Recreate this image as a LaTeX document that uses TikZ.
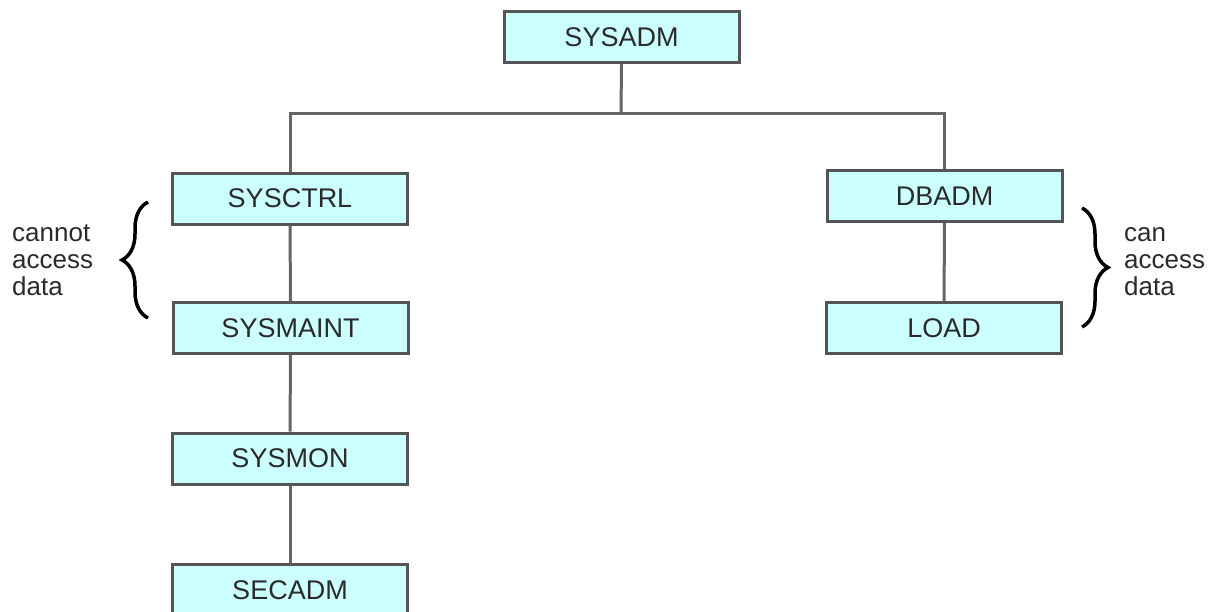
\documentclass[tikz,border=0pt]{standalone}
\usepackage{fontspec}
\setmainfont{Liberation Sans}
\usetikzlibrary{decorations.pathreplacing}
\definecolor{boxfill}{HTML}{CCFFFF}
\definecolor{boxline}{HTML}{555555}
\definecolor{txt}{HTML}{2A2A2A}
\begin{document}
\begin{tikzpicture}[x=1pt,y=-1pt,
  rolebox/.style={draw=boxline, line width=3pt, fill=boxfill, minimum width=235pt, minimum height=51pt, inner sep=0pt, text=txt, font=\fontsize{27}{32}\selectfont},
  link/.style={draw=boxline!90!white, line width=3pt},
  bracestyle/.style={draw=black, line width=3.5pt, decorate, decoration={brace, amplitude=26pt}},
  side/.style={align=left, text=txt, inner sep=0pt, font=\fontsize{26}{27}\selectfont}]
\useasboundingbox (0,0) rectangle (1223,611);
\clip (0,0) rectangle (1223,611);
\coordinate (bus) at (621,113);
\node[rolebox] (sysadm) at (621.5,37) {SYSADM};
\node[rolebox] (sysctrl) at (290,198.5) {SYSCTRL};
\node[rolebox] (dbadm) at (944.5,196) {DBADM};
\node[rolebox] (sysmaint) at (290.5,328) {SYSMAINT};
\node[rolebox] (load) at (944,328) {LOAD};
\node[rolebox] (sysmon) at (290,458.5) {SYSMON};
\node[rolebox] (secadm) at (290,590) {SECADM};
\draw[link] (sysadm.south) -- (bus);
\draw[link] (bus) -| (sysctrl.north);
\draw[link] (bus) -| (dbadm.north);
\draw[link] (sysctrl) -- (sysmaint);
\draw[link] (sysmaint) -- (sysmon);
\draw[link] (sysmon) -- (secadm);
\draw[link] (dbadm) -- (load);
\coordinate (lb1) at (148,318);
\coordinate (lb2) at (148,202);
\coordinate (rb1) at (1082,208);
\coordinate (rb2) at (1082,327);
\draw[bracestyle] (lb1) -- (lb2);
\draw[bracestyle] (rb1) -- (rb2);
\node[side, anchor=west] (cannot) at (12,260) {cannot\\access\\data};
\node[side, anchor=west] (can) at (1124,262) {can\\access\\data};
\end{tikzpicture}
\end{document}
